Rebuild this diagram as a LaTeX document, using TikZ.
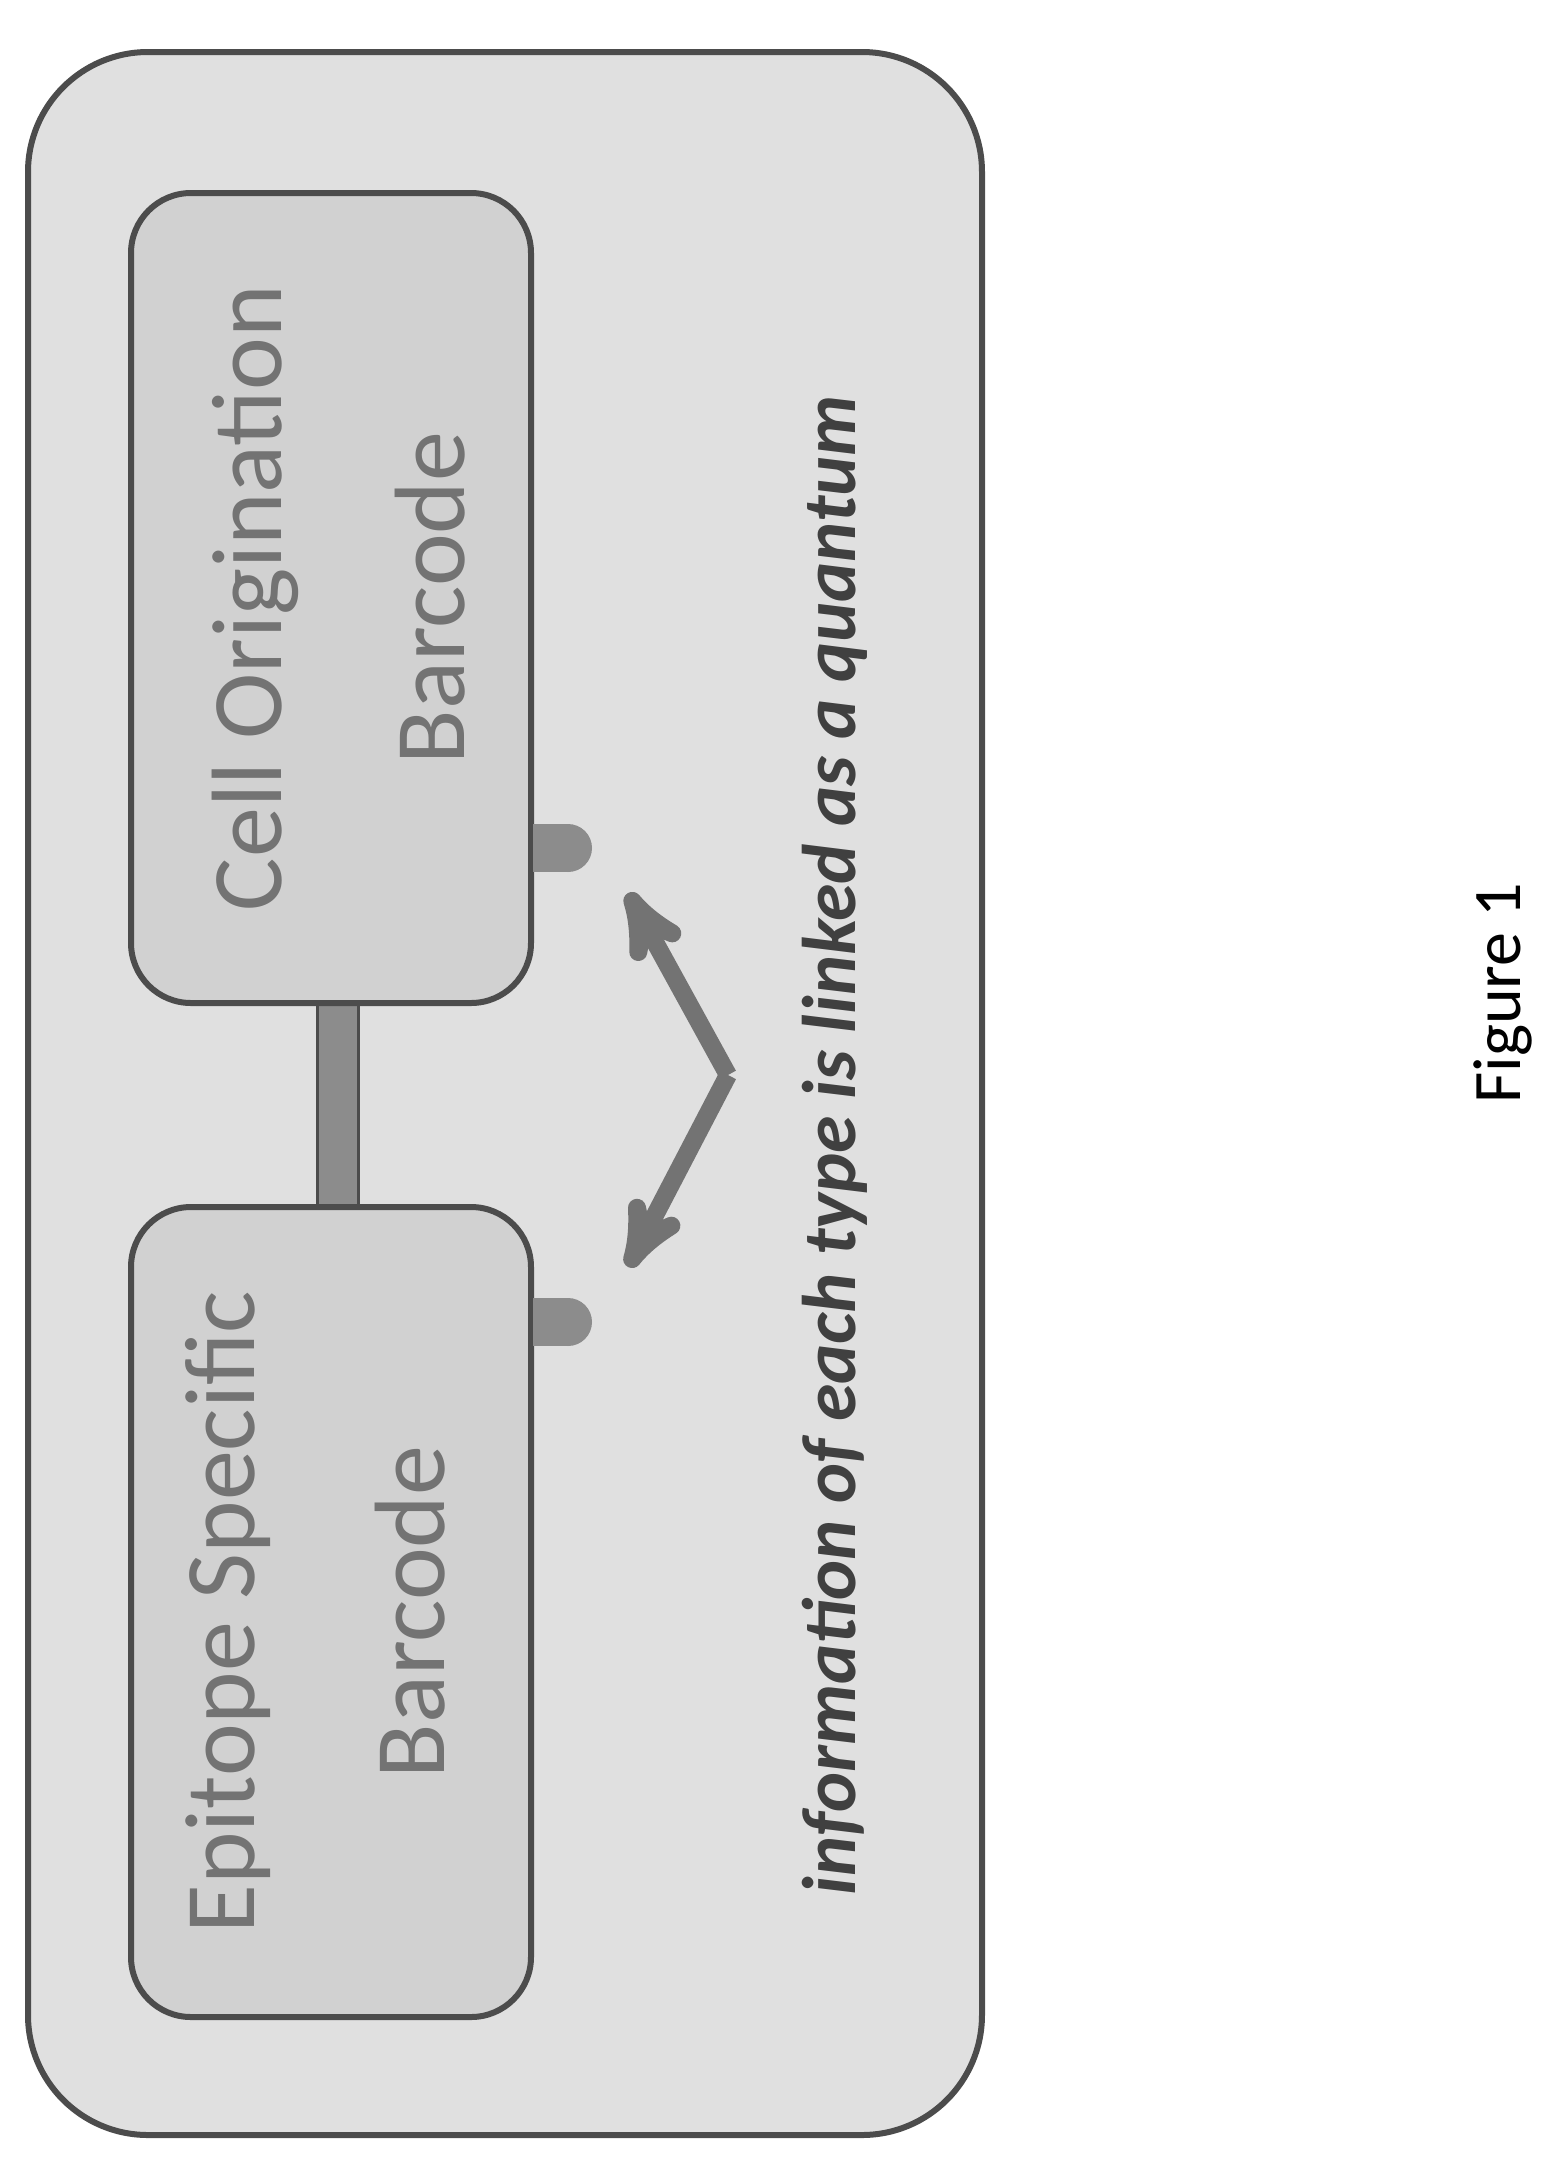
\documentclass[tikz,border=0pt]{standalone}
\usepackage{fontspec}
\setmainfont{Carlito}
\usetikzlibrary{arrows}

\begin{document}
\begin{tikzpicture}[x=0.5pt,y=-0.5pt,>=stealth',thick,
  outer box/.style={draw=black!70,line width=3pt,fill=black!12,rounded corners=60pt},
  code box/.style={draw=black!70,line width=3pt,fill=black!18,rounded corners=30pt,
    minimum width=200pt,minimum height=405pt},
  box text/.style={font=\fontsize{50}{60}\selectfont,text=black!55,rotate=90},
  bump/.style={draw=none,fill=black!45}]

  \useasboundingbox (0,0) rectangle (1559,2165);
  \draw[outer box] (28,52) rectangle (982,2135);

  % barcode boxes
  \draw[draw=black!70,fill=black!45,line width=1.5pt] (317,1004) rectangle (358,1207);
  \node[code box] (esb) at (331,1612) {};
  \node[code box] (cob) at (331,598) {};
  \node[box text] (esbt) at (228,1612) {Epitope Specific};
  \node[box text] (esbb) at (410,1612) {Barcode};
  \node[box text] (cobt) at (255,598) {Cell Origination};
  \node[box text] (cobb) at (430,598) {Barcode};

  % bumps on the boxes
  \fill[bump] (533,1298) rectangle (568,1346);
  \fill[bump] (568,1322) circle[radius=24];
  \fill[bump] (533,824) rectangle (568,872);
  \fill[bump] (568,848) circle[radius=24];

  % linking arrows
  \coordinate (apex) at (728,1075);
  \coordinate (tipl) at (628,1267);
  \coordinate (tipr) at (628,893);
  \draw[->,black!55,line width=9pt] (apex) -- (tipl);
  \draw[->,black!55,line width=9pt] (apex) -- (tipr);

  \node[rotate=90,font=\fontsize{38}{44}\selectfont\itshape\bfseries,text=black!75]
    (info) at (835,1145) {information of each type is linked as a quantum};
  \node[rotate=90,font=\fontsize{34}{40}\selectfont] (fig) at (1503,993) {Figure 1};
\end{tikzpicture}
\end{document}
